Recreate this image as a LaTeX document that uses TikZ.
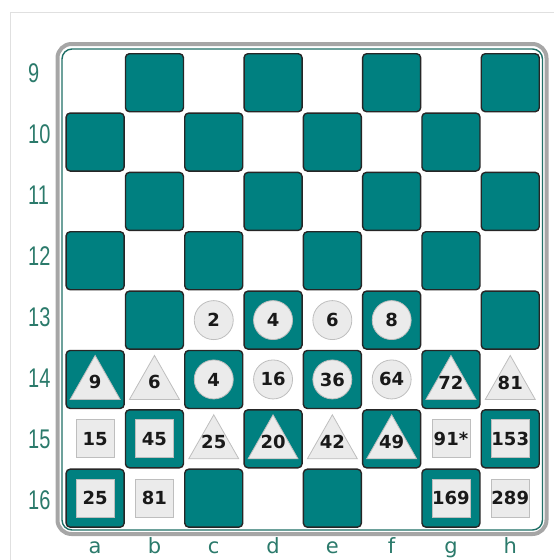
\documentclass[tikz,border=0pt]{standalone}
\usepackage{fontspec}
\setmainfont{DejaVu Sans}
\newfontfamily\rowfont[FakeStretch=0.74]{Liberation Sans}
\usetikzlibrary{calc}
\definecolor{BoardTeal}{HTML}{008080}
\definecolor{FrameTeal}{HTML}{1F6F66}
\definecolor{LabelTeal}{HTML}{2B7A6B}
\definecolor{PieceFill}{HTML}{EBEBEB}
\definecolor{PieceLine}{HTML}{BEBEBE}

% triangle piece: cell, name, number
\newcommand\tripiece[3]{%
  \path[piece] ($(#1)+(0,-24)$) -- ($(#1)+(25,20)$) -- ($(#1)+(-25,20)$) -- cycle;
  \node[num] (#2) at ($(#1)+(0,3)$) {#3};}

\begin{document}
\begin{tikzpicture}[
	x=1pt, y=-1pt,
	darksq/.style={draw=black!85, line width=1.4pt, fill=BoardTeal, rounded corners=4pt, minimum size=58pt, inner sep=0pt},
	piece/.style={draw=PieceLine, line width=0.8pt, fill=PieceFill},
	num/.style={font=\bfseries\fontsize{18}{18}\selectfont, text=black!90, inner sep=0pt},
	circpiece/.style={piece, num, circle, minimum size=39pt},
	sqpiece/.style={piece, num, rectangle, minimum size=38pt},
	rowlab/.style={font=\rowfont\fontsize{27}{27}\selectfont, text=LabelTeal, anchor=west, inner sep=0pt},
	collab/.style={font=\fontsize{21}{21}\selectfont, text=LabelTeal, anchor=base, inner sep=0pt}
]
\useasboundingbox (0,0) rectangle (554,560);
\draw[black!12, line width=1pt] (10,560) -- (10,12) -- (554,12);

% frame
\draw[black!35, line width=4pt, rounded corners=14pt] (57.5,44) rectangle (546.5,534);
\draw[FrameTeal, line width=1.4pt, rounded corners=10pt] (62,49) rectangle (542.5,530);

% cells
\foreach \col [count=\i from 0] in {a,...,h}
	\foreach \row [count=\j from 0] in {9,...,16}
		\coordinate (cell-\col\row) at ({95.15+59.3*\i},{82.7+59.35*\j});

\foreach \col [count=\i from 0] in {a,...,h}
	\foreach \row [count=\j from 0] in {9,...,16} {
		\pgfmathtruncatemacro\odd{mod(\i+\j,2)}
		\ifnum\odd=1 \node[darksq] (sq-\col\row) at (cell-\col\row) {}; \fi
	}

% labels
\foreach \row [count=\j from 0] in {9,...,16}
	\node[rowlab] (lab-\row) at (28,{73.5+60.9*\j}) {\row};
\foreach \col in {a,...,h}
	\node[collab] (lab-\col) at ($(cell-\col16)+(0,55.5)$) {\col};

% pieces
\foreach \c/\n in {c13/2, d13/4, e13/6, f13/8, c14/4, d14/16, e14/36, f14/64}
	\node[circpiece] (pc-\c) at (cell-\c) {\n};
\foreach \c/\n in {a14/9, b14/6, g14/72, h14/81, c15/25, d15/20, e15/42, f15/49}
	\tripiece{cell-\c}{pc-\c}{\n};
\foreach \c/\n in {a15/15, b15/45, g15/91*, h15/153, a16/25, b16/81, g16/169, h16/289}
	\node[sqpiece] (pc-\c) at (cell-\c) {\n};
\end{tikzpicture}
\end{document}
